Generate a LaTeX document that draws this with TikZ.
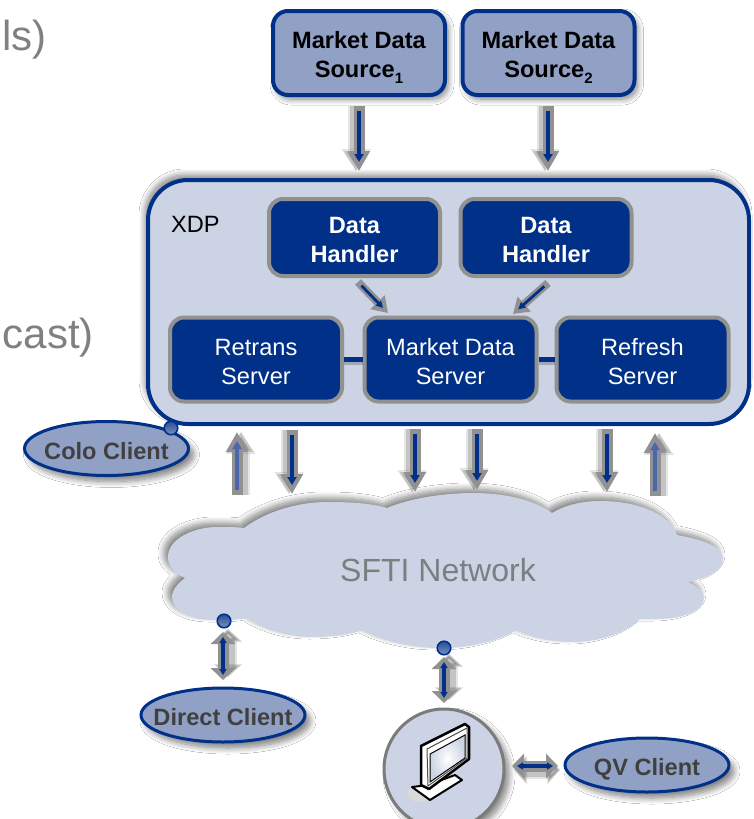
\documentclass[tikz,border=0pt]{standalone}
\usepackage{fontspec}
\setmainfont{Liberation Sans}
\usetikzlibrary{shapes.geometric,arrows.meta,shadows.blur}
\definecolor{navy}{HTML}{003087}
\definecolor{pale}{HTML}{CBD3E4}
\definecolor{mid}{HTML}{91A1C6}
\definecolor{edge}{HTML}{919191}
\definecolor{upblue}{HTML}{4A67AE}
\definecolor{darktext}{HTML}{404040}
\definecolor{cloudtext}{HTML}{7A7F80}
\definecolor{slidetext}{HTML}{808080}
\newcommand{\lbl}{\fontsize{23.6}{29}\selectfont}
\newcommand{\subdigit}[1]{\raisebox{-5.5pt}[0pt][0pt]{\fontsize{15}{15}\selectfont #1}}
\newcommand{\lift}{\rule{0pt}{21pt}}
\newcommand{\clientname}[1]{\lift\makebox[0pt]{\raisebox{0pt}[\height][0pt]{#1}}}
\tikzset{
  softshadow/.style n args={2}{blur shadow={shadow xshift=#1,shadow yshift=#2,shadow blur radius=6pt,shadow blur steps=10,shadow opacity=50}},
  sourcebox/.style={draw=navy,line width=4pt,fill=mid,rounded corners=15pt,minimum width=172pt,minimum height=84pt,inner sep=0pt,align=center,font=\lbl\bfseries,text=black,softshadow={3pt}{-4pt}},
  xdpbox/.style={draw=navy,line width=4pt,fill=pale,rounded corners=40pt,minimum width=601pt,minimum height=244pt,inner sep=0pt,softshadow={-3pt}{5pt}},
  bluebox/.style={draw=edge,line width=4pt,fill=navy,rounded corners=14pt,inner sep=0pt,align=center,font=\lbl,text=white},
  handler/.style={bluebox,minimum width=171pt,minimum height=77pt,font=\lbl\bfseries},
  server/.style={bluebox,minimum width=172pt,minimum height=84pt},
  client/.style={ellipse,draw=navy,line width=3pt,fill=mid,minimum width=164pt,minimum height=54pt,inner sep=0pt,font=\lbl\bfseries,text=darktext,softshadow={5pt}{-6pt}},
  terminal/.style={circle,draw=edge!85!black,line width=3pt,fill=pale,minimum size=120pt,inner sep=0pt,softshadow={5pt}{-5pt}},
  port/.style={circle,draw=navy,line width=1.6pt,top color=navy!85,bottom color=mid!85!navy,minimum size=13.5pt,inner sep=0pt},
  linkline/.style={draw=navy,line width=5pt,preaction={draw=black,opacity=.2,line width=5pt,transform canvas={yshift=-3pt}}},
  flow/.style={draw=navy,line width=3.6pt,shorten >=9pt,shorten <=5pt,-{Triangle[length=8pt,width=9pt]},
    preaction={draw=black,opacity=.10,line width=17pt,shorten >=0pt,shorten <=0pt,-{Triangle[length=22pt,width=28pt]},transform canvas={xshift=#1}},
    preaction={draw=black,opacity=.14,line width=13pt,shorten >=0pt,shorten <=0pt,-{Triangle[length=20pt,width=23pt]},transform canvas={xshift=#1}},
    preaction={draw=edge,line width=11pt,shorten >=0pt,shorten <=0pt,-{Triangle[length=20pt,width=21pt]}}},
  slantflow/.style={draw=navy,line width=2.8pt,shorten >=7pt,shorten <=5pt,-{Triangle[length=7pt,width=7pt]},
    preaction={draw=edge,line width=8pt,shorten >=0pt,shorten <=0pt,-{Triangle[length=15pt,width=19pt]}}},
  dflow/.style n args={2}{draw=navy,line width=3.2pt,shorten >=5pt,shorten <=5pt,{Triangle[length=6pt,width=7pt]}-{Triangle[length=6pt,width=7pt]},
    preaction={draw=black,opacity=.10,line width=17pt,shorten >=0pt,shorten <=0pt,{Triangle[length=13pt,width=28pt]}-{Triangle[length=13pt,width=28pt]},transform canvas={xshift=#1,yshift=#2}},
    preaction={draw=black,opacity=.14,line width=13pt,shorten >=0pt,shorten <=0pt,{Triangle[length=12pt,width=25pt]}-{Triangle[length=12pt,width=25pt]},transform canvas={xshift=#1,yshift=#2}},
    preaction={draw=edge,line width=11pt,shorten >=0pt,shorten <=0pt,{Triangle[length=12pt,width=24pt]}-{Triangle[length=12pt,width=24pt]}}},
  upcolor/.style={draw=upblue},
}
\begin{document}
\begin{tikzpicture}[x=1pt,y=-1pt]
\useasboundingbox (0,0) rectangle (753,819);
\clip (0,0) rectangle (753,819);
\fill[white] (0,0) rectangle (753,819);
% cropped slide text
\node[anchor=base east,inner sep=0pt,font=\fontsize{42}{50}\selectfont,text=slidetext] (slideA) at (47,50) {ls)};
\node[anchor=base east,inner sep=0pt,font=\fontsize{42}{50}\selectfont,text=slidetext] (slideB) at (94,348) {cast)};
% sources
\node[sourcebox] (src1) at (359,53) {\lift Market Data\\Source\subdigit{1}};
\node[sourcebox] (src2) at (548.5,53) {\lift Market Data\\Source\subdigit{2}};
% XDP
\node[xdpbox] (xdp) at (448.5,302) {};
\node[anchor=base west,inner sep=0pt,font=\lbl,text=black] (xdplabel) at (171,232) {XDP};
\node[handler] (dh1) at (354.5,237.5) {\lift Data\\Handler};
\node[handler] (dh2) at (546,237.5) {\lift Data\\Handler};
\node[server] (retrans) at (256,359.5) {\lift Retrans\\Server};
\node[server] (market) at (450.5,359.5) {\lift Market Data\\Server};
\node[server] (refresh) at (642.5,359.5) {\lift Refresh\\Server};
\draw[linkline] (retrans) -- (market);
\draw[linkline] (market) -- (refresh);
% cloud
\path[fill=pale,blur shadow={shadow xshift=-4pt,shadow yshift=4pt,shadow blur radius=6pt,shadow blur steps=10,shadow opacity=50}]
 (185,578) .. controls (172,572) and (168,565) .. (168,557) .. controls (168,538) and (195,527) .. (217,527) .. controls (228,527) and (237,527) .. (244,528)
 .. controls (265,512) and (297,502) .. (327,502) .. controls (350,502) and (370,503) .. (387,508)
 .. controls (410,498) and (445,493) .. (473,493) .. controls (505,493) and (535,500) .. (552,513)
 .. controls (565,505) and (582,501) .. (600,501) .. controls (640,501) and (670,515) .. (677,535)
 .. controls (705,540) and (723,547) .. (723,559) .. controls (723,570) and (708,578) .. (688,582)
 .. controls (698,587) and (704,592) .. (704,598) .. controls (704,612) and (680,619) .. (657,619) .. controls (650,619) and (645,619) .. (640,619)
 .. controls (625,633) and (600,642) .. (573,642) .. controls (550,642) and (530,637) .. (517,630)
 .. controls (495,642) and (470,648) .. (440,648) .. controls (410,648) and (380,640) .. (363,630)
 .. controls (350,635) and (330,637) .. (313,637) .. controls (285,637) and (262,628) .. (248,618)
 .. controls (238,620) and (225,620) .. (213,620) .. controls (190,620) and (172,610) .. (172,597) .. controls (172,590) and (178,583) .. (185,578) -- cycle;
\node[inner sep=0pt,font=\fontsize{32}{38}\selectfont,text=cloudtext] (sfti) at (438,570) {SFTI Network};
% clients
\node[client] (colo) at (106.5,448.5) {\clientname{Colo Client}};
\node[client] (direct) at (223,715) {\clientname{Direct Client}};
\node[client] (qv) at (647,765) {\clientname{QV Client}};
\node[terminal] (term) at (444,769) {};
% monitor
\fill[black!15] (420,794) ellipse (13pt and 8pt);
\draw[black,line width=2pt,line join=round,fill=white] (412,787) -- (430,800) -- (462,780) -- (455,775) -- (428,785) -- cycle;
\draw[black,line width=2.5pt,line join=round,fill=white] (421,746) -- (465,724) -- (469,727) -- (469,759) -- (429,789) -- (421,785) -- cycle;
\draw[black!70,line width=1pt,fill=white] (427,749) -- (467,728) -- (467,758) -- (428,786) -- cycle;
\shade[inner color=white,outer color=pale,draw=black,line width=1pt] (430,754) -- (465,735) -- (465,758) -- (430,782) -- cycle;
% connector end points
\coordinate (a1) at (359,106); \coordinate (a2) at (359,171);
\coordinate (b1) at (548,106); \coordinate (b2) at (548,171);
\coordinate (c1) at (358,282); \coordinate (c2) at (388,313);
\coordinate (d1) at (548,283); \coordinate (d2) at (513,314);
\coordinate (e1) at (237,495); \coordinate (e2) at (237,432);
\coordinate (f1) at (292,430); \coordinate (f2) at (292,494);
\coordinate (g1) at (415,429); \coordinate (g2) at (415,492);
\coordinate (h1) at (477,429); \coordinate (h2) at (477,490);
\coordinate (i1) at (607,429); \coordinate (i2) at (607,492);
\coordinate (j1) at (655,496); \coordinate (j2) at (655,433);
\coordinate (k1) at (223,632); \coordinate (k2) at (223,680);
\coordinate (l1) at (444,657); \coordinate (l2) at (444,703);
\coordinate (m1) at (512,766); \coordinate (m2) at (558,766);
% connectors
\draw[flow=-3pt] (a1) -- (a2);
\draw[flow=-3pt] (b1) -- (b2);
\draw[slantflow] (c1) -- (c2);
\draw[slantflow] (d1) -- (d2);
\draw[flow=4pt,upcolor] (e1) -- (e2);
\draw[flow=-3pt] (f1) -- (f2);
\draw[flow=-3pt] (g1) -- (g2);
\draw[flow=-3pt] (h1) -- (h2);
\draw[flow=-3pt] (i1) -- (i2);
\draw[flow=4pt,upcolor] (j1) -- (j2);
\draw[dflow={5pt}{3pt}] (k1) -- (k2);
\draw[dflow={5pt}{3pt}] (l1) -- (l2);
\draw[dflow={2pt}{-4pt}] (m1) -- (m2);
% ports
\node[port] (p1) at (171,428) {};
\node[port] (p2) at (224,621) {};
\node[port] (p3) at (444,648) {};
\end{tikzpicture}
\end{document}
